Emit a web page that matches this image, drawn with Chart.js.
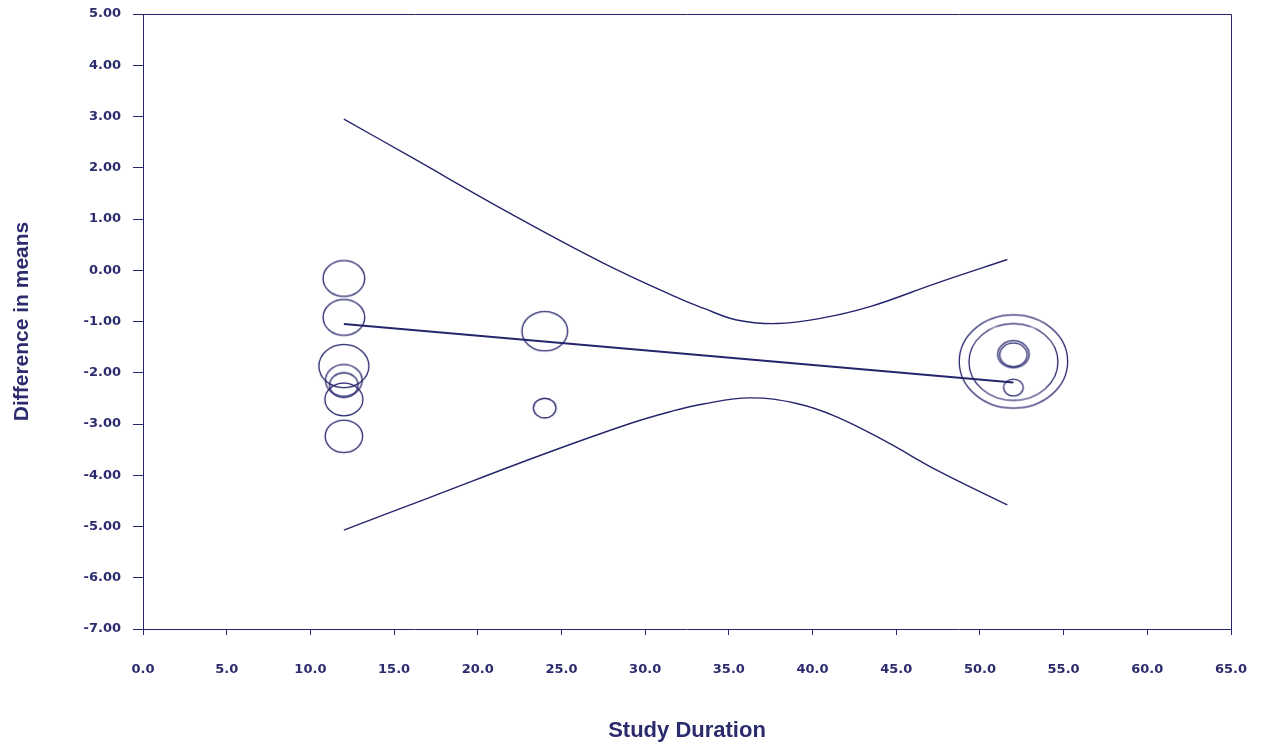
<!DOCTYPE html>
<html>
<head>
<meta charset="utf-8">
<script src="https://cdn.jsdelivr.net/npm/chart.js@4.4.1/dist/chart.umd.min.js"></script>
<style>
  body { margin: 0; background: #fff; }
</style>
</head>
<body>
<canvas id="myChart" width="1262" height="744"></canvas>
<script>
// study points (duration in weeks, difference in means, weight)
const studyDuration = [12, 12, 12, 12, 12, 12, 12, 24, 24, 52, 52, 52, 52, 52];
const diffMeans = [-0.16, -0.92, -1.87, -2.15, -2.24, -2.52, -3.24, -1.19, -2.69, -1.78, -1.79, -1.64, -1.65, -2.29];
const studyWeight = [20.8, 20.8, 25, 18.3, 14.2, 19, 18.7, 22.8, 11.3, 54.2, 44.5, 15.7, 13.7, 9.8];

// regression line
const regX = [12, 52];
const regY = [-1.05, -2.19];

// confidence bounds
const upperX = [12.0, 15.95, 21.93, 27.5, 32.1, 33.47, 35.47, 37.86, 40.46, 43.43, 47.42, 51.64];
const upperY = [2.95, 2.22, 1.11, 0.14, -0.56, -0.74, -0.97, -1.04, -0.94, -0.71, -0.25, 0.21];
const lowerX = [12.0, 17.15, 23.92, 29.1, 31.49, 33.47, 36.26, 39.05, 41.44, 44.43, 47.42, 51.64];
const lowerY = [-5.07, -4.43, -3.59, -2.99, -2.76, -2.61, -2.49, -2.6, -2.86, -3.35, -3.9, -4.58];

const xTicks = [0, 5, 10, 15, 20, 25, 30, 35, 40, 45, 50, 55, 60, 65];
const yTicks = [5, 4, 3, 2, 1, 0, -1, -2, -3, -4, -5, -6, -7];

const navy = '#25256d';
const textNavy = '#2b2b6e';
const tickFont = { family: 'DejaVu Sans', weight: 'bold', size: 13 };

const pts = (xs, ys) => xs.map((x, i) => ({ x: x, y: ys[i] }));

// ellipse markers, a bit wider than tall like the original
const cache = {};
function ellipse(rx) {
  if (cache[rx]) return cache[rx];
  const ry = rx / 1.16;
  const c = document.createElement('canvas');
  c.width = Math.ceil(rx * 2 + 4);
  c.height = Math.ceil(ry * 2 + 4);
  const g = c.getContext('2d');
  g.strokeStyle = navy;
  g.lineWidth = 1.3;
  g.beginPath();
  g.ellipse(c.width / 2, c.height / 2, rx, ry, 0, 0, Math.PI * 2);
  g.stroke();
  cache[rx] = c;
  return c;
}

const frame = {
  id: 'frame',
  beforeDatasetsDraw(chart) {
    const { ctx, chartArea: a } = chart;
    ctx.save();
    ctx.strokeStyle = navy;
    ctx.lineWidth = 1;
    ctx.beginPath();
    ctx.moveTo(Math.round(a.left) + 0.5, Math.round(a.top) + 0.5);
    ctx.lineTo(Math.round(a.right) + 0.5, Math.round(a.top) + 0.5);
    ctx.lineTo(Math.round(a.right) + 0.5, Math.round(a.bottom) + 0.5);
    ctx.stroke();
    ctx.restore();
  }
};

const ctx = document.getElementById('myChart');
new Chart(ctx, {
  type: 'scatter',
  data: {
    datasets: [
      {
        data: pts(regX, regY),
        showLine: true,
        borderColor: navy,
        borderWidth: 2,
        pointRadius: 0
      },
      {
        data: pts(upperX, upperY),
        showLine: true,
        borderColor: navy,
        borderWidth: 1.4,
        pointRadius: 0,
        tension: 0.4
      },
      {
        data: pts(lowerX, lowerY),
        showLine: true,
        borderColor: navy,
        borderWidth: 1.4,
        pointRadius: 0,
        tension: 0.4
      },
      {
        data: pts(studyDuration, diffMeans),
        pointStyle: (c) => ellipse(studyWeight[c.dataIndex]),
        pointRadius: 10,
        backgroundColor: 'transparent',
        borderColor: navy
      }
    ]
  },
  options: {
    responsive: false,
    devicePixelRatio: 1,
    animation: false,
    layout: { padding: { top: 14, right: 31, left: 0, bottom: 0 } },
    plugins: {
      legend: { display: false },
      tooltip: { enabled: false }
    },
    scales: {
      x: {
        type: 'linear',
        min: 0,
        max: 65,
        afterBuildTicks: (s) => { s.ticks = xTicks.map(v => ({ value: v })); },
        afterFit: (s) => {
          s.height = 115;
          s.paddingLeft = 0;
          s.paddingRight = 0;
        },
        ticks: {
          color: textNavy,
          font: tickFont,
          padding: 27,
          maxRotation: 0,
          callback: (v) => v.toFixed(1)
        },
        grid: { drawOnChartArea: false, drawTicks: true, tickLength: 6, color: navy },
        border: { display: true, color: navy, width: 1 },
        title: {
          display: true,
          text: 'Study Duration',
          color: textNavy,
          font: { family: 'Liberation Sans', weight: 'bold', size: 22 },
          padding: { top: 0, bottom: 0 }
        }
      },
      y: {
        min: -7,
        max: 5,
        afterBuildTicks: (s) => { s.ticks = yTicks.map(v => ({ value: v })); },
        afterFit: (s) => {
          s.width = 143;
          s.paddingTop = 0;
          s.paddingBottom = 0;
        },
        ticks: {
          color: textNavy,
          font: tickFont,
          padding: 12,
          callback: (v) => v.toFixed(2)
        },
        grid: { drawOnChartArea: false, drawTicks: true, tickLength: 10, color: navy },
        border: { display: true, color: navy, width: 1 },
        title: {
          display: true,
          text: 'Difference in means',
          color: textNavy,
          font: { family: 'Liberation Sans', weight: 'bold', size: 21 },
          padding: { top: 10, bottom: 0 }
        }
      }
    }
  },
  plugins: [frame]
});
</script>
</body>
</html>
